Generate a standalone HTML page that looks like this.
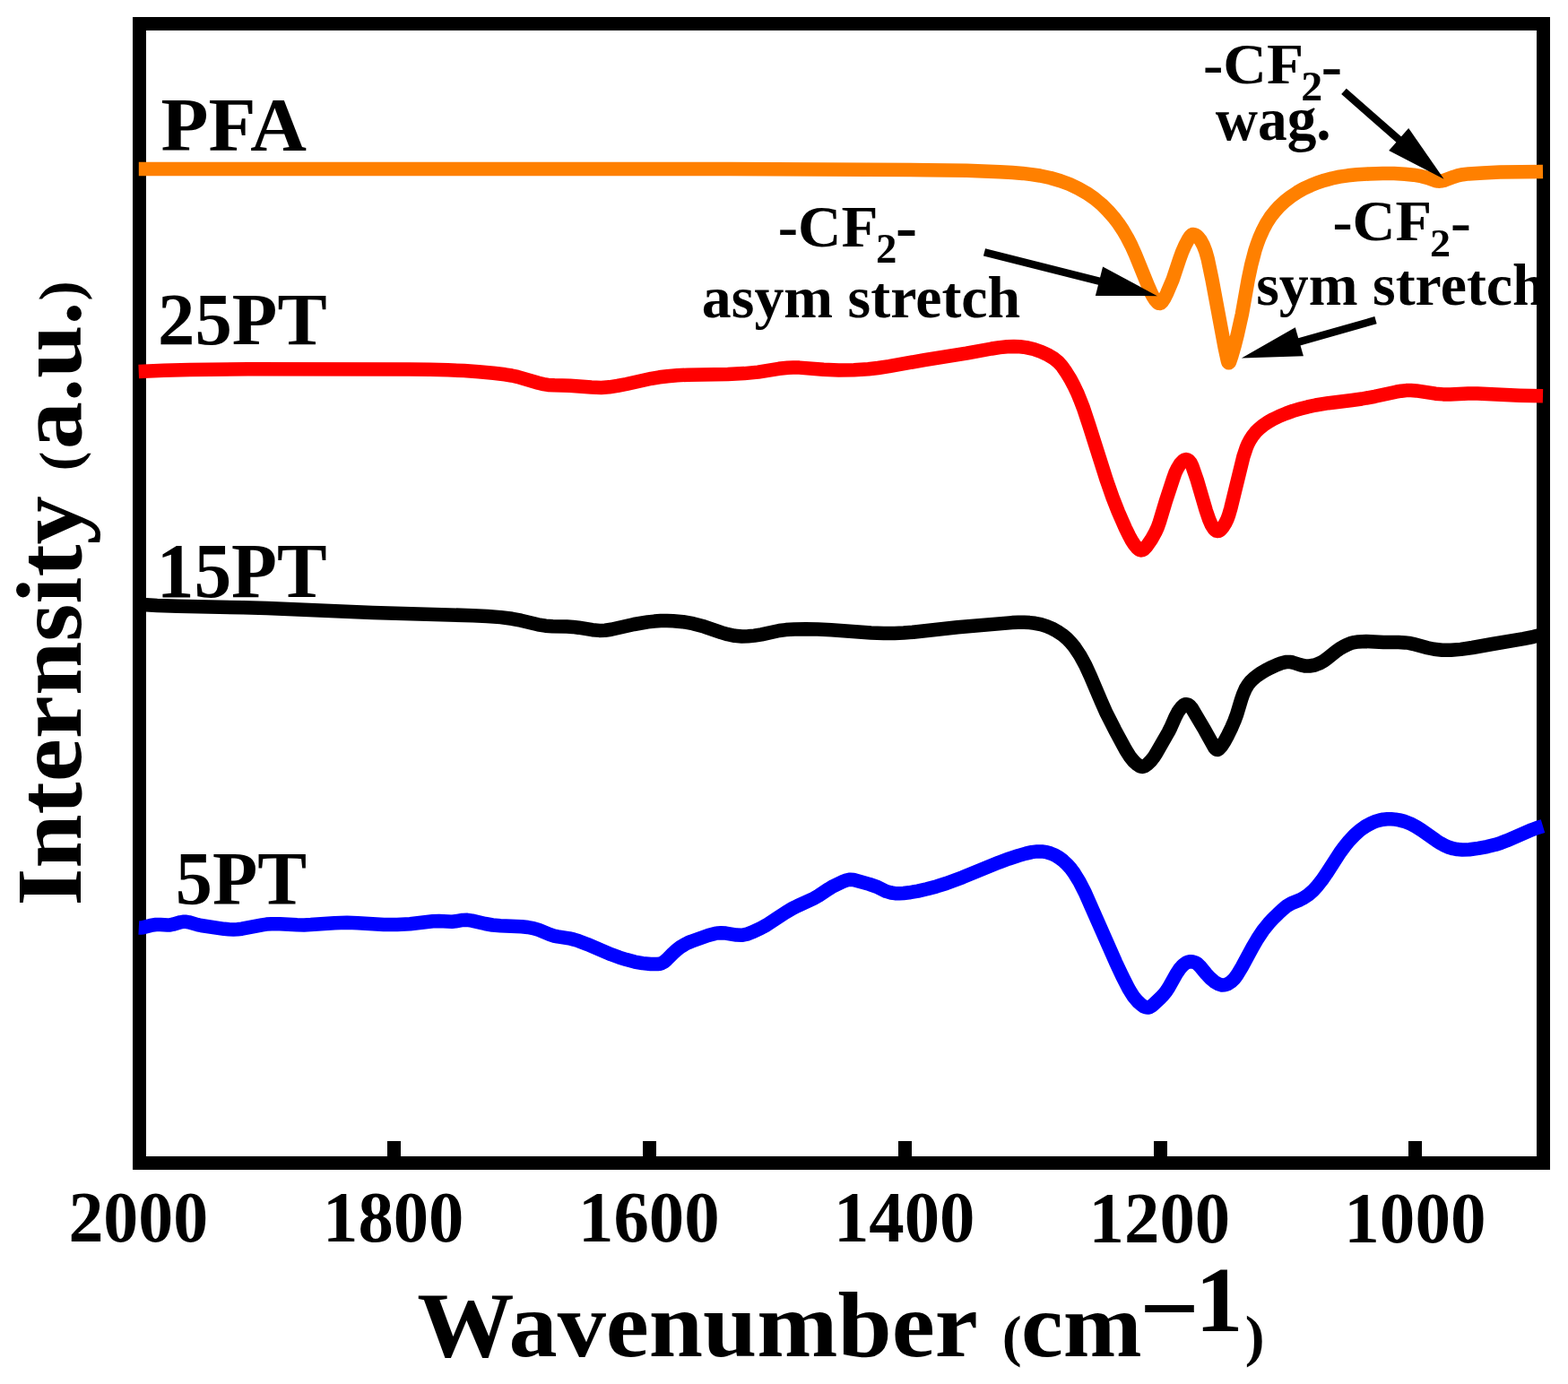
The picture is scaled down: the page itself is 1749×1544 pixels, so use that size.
<!DOCTYPE html>
<html><head><meta charset="utf-8"><title>FTIR spectra</title>
<style>html,body{margin:0;padding:0;background:#fff;width:1749px;height:1544px;overflow:hidden}svg{display:block}text{font-family:"Liberation Serif",serif;font-weight:bold;fill:#000}</style>
</head><body>
<svg width="1749" height="1544" viewBox="0 0 1749 1544">
<rect width="1749" height="1544" fill="#fff"/>
<text transform="translate(76.44,1385.49) scale(0.9855,1.0094)" font-size="79">2000</text>
<text transform="translate(360.02,1385.49) scale(0.9966,1.0094)" font-size="79">1800</text>
<text transform="translate(645.01,1385.19) scale(0.9980,1.0075)" font-size="79">1600</text>
<text transform="translate(929.92,1385.19) scale(0.9973,1.0075)" font-size="79">1400</text>
<text transform="translate(1214.62,1385.59) scale(0.9973,1.0132)" font-size="79">1200</text>
<text transform="translate(1499.29,1385.59) scale(1.0013,1.0113)" font-size="79">1000</text>
<text transform="scale(1.0120,0.9792)"><tspan x="459.68" y="1545.59" font-size="107.00">Wavenumber </tspan><tspan x="1104.48" y="1544.37" font-size="64.87">(</tspan><tspan x="1125.48" y="1544.88" font-size="104.23">cm</tspan><tspan x="1255.84" y="1529.53" font-size="116.09">−</tspan><tspan x="1317.54" y="1516.75" font-size="105.34">1</tspan><tspan x="1372.23" y="1544.32" font-size="64.66">)</tspan></text>
<text transform="rotate(-90) scale(1.0130,0.9786)"><tspan x="-997.88" y="91.66" font-size="107.00">Internsity </tspan><tspan x="-518.57" y="90.35" font-size="64.19">(</tspan><tspan x="-494.87" y="91.97" font-size="104.67">a.u.</tspan><tspan x="-331.51" y="90.95" font-size="66.60">)</tspan></text>
<text transform="translate(179.58,168.00) scale(1.0217,1.0000)" font-size="85">PFA</text>
<text transform="translate(176.08,384.00) scale(0.9737,0.9825)" font-size="85">25PT</text>
<text transform="translate(174.74,666.00) scale(0.9806,1.0179)" font-size="85">15PT</text>
<text transform="translate(195.80,1009.00) scale(0.9680,1.0000)" font-size="85">5PT</text>
<text transform="scale(0.9718,0.9625)"><tspan x="892.94" y="285.65" font-size="69.00">-CF</tspan><tspan x="1005.45" y="304.22" font-size="48.19">2</tspan><tspan x="1027.89" y="288.30" font-size="74.37">-</tspan></text>
<text transform="scale(0.9627,0.9333)"><tspan x="1543.97" y="287.22" font-size="69.00">-CF</tspan><tspan x="1656.86" y="306.24" font-size="47.95">2</tspan><tspan x="1680.70" y="289.61" font-size="71.29">-</tspan></text>
<text transform="scale(0.9755,0.9333)"><tspan x="1375.65" y="99.72" font-size="69.00">-CF</tspan><tspan x="1487.67" y="119.60" font-size="49.10">2</tspan><tspan x="1510.88" y="102.46" font-size="71.85">-</tspan></text>
<text transform="translate(782.84,354.46) scale(1.0287,1.0103)" font-size="64">asym stretch</text>
<text transform="translate(1401.24,340.26) scale(1.0287,1.0103)" font-size="64">sym stretch</text>
<text transform="translate(1355.70,155.51) scale(1.0220,1.0489)" font-size="64">wag.</text>
<rect x="155.5" y="26.5" width="1566" height="1271" fill="none" stroke="#000" stroke-width="15"/>
<rect x="432" y="1273" width="15" height="18" fill="#000"/>
<rect x="717" y="1273" width="15" height="18" fill="#000"/>
<rect x="1002" y="1273" width="15" height="18" fill="#000"/>
<rect x="1287" y="1273" width="15" height="18" fill="#000"/>
<rect x="1571" y="1273" width="15" height="18" fill="#000"/>
<path d="M154.8,188.6 814.2,188.5 1034.2,189.7 1078.2,190.3 1115.2,191.7 1129.2,192.5 1140.7,193.4 1150.6,194.6 1160.0,196.0 1171.7,198.5 1182.7,201.7 1193.0,205.5 1202.9,210.2 1212.1,215.4 1220.7,221.4 1228.8,228.1 1236.2,235.5 1242.2,242.3 1247.6,249.4 1252.6,256.9 1257.4,265.1 1261.9,273.9 1266.4,283.9 1280.2,317.8 1284.2,327.1 1286.3,331.1 1288.5,334.5 1290.7,337.1 1292.4,338.3 1293.5,338.5 1294.5,338.2 1296.4,336.6 1298.7,333.1 1301.7,327.1 1308.3,311.4 1315.7,289.1 1318.6,281.1 1321.9,273.7 1325.5,266.9 1328.0,263.2 1329.2,262.1 1330.3,261.5 1331.4,261.4 1333.0,262.0 1334.7,263.0 1336.3,264.5 1339.3,268.2 1342.0,273.2 1344.8,280.3 1347.2,288.9 1351.9,311.3 1366.1,387.6 1369.2,401.9 1369.9,404.2 1370.6,404.8 1371.3,404.2 1371.9,402.9 1373.7,397.5 1377.1,385.9 1380.2,373.6 1385.4,350.4 1392.2,312.0 1395.5,296.3 1399.8,279.7 1402.3,272.1 1404.9,265.1 1408.5,257.0 1412.6,249.2 1417.1,242.1 1421.9,235.9 1427.2,230.1 1433.1,224.6 1439.8,219.4 1447.0,214.6 1454.0,210.6 1461.8,206.9 1469.3,203.8 1477.4,201.2 1485.6,199.0 1494.3,197.2 1503.5,195.8 1513.4,194.8 1527.3,193.9 1542.4,193.4 1555.0,193.6 1567.0,194.2 1576.9,195.2 1585.6,196.7 1592.4,198.4 1601.5,201.6 1603.8,202.1 1605.8,202.2 1608.6,201.8 1611.5,201.1 1621.5,197.3 1625.9,195.9 1631.7,194.7 1638.1,193.9 1654.0,192.9 1673.0,192.1 1721.0,191.4" fill="none" stroke="#ff8000" stroke-width="15.5" stroke-linejoin="round"/>
<path d="M154.7,414.4 182.7,413.3 211.7,412.5 276.7,411.7 456.6,412.0 479.6,412.3 499.6,412.8 517.6,413.6 534.0,414.7 550.4,416.2 563.3,417.8 570.7,419.0 577.1,420.4 600.6,427.3 606.4,428.6 611.3,429.4 618.3,429.8 635.8,430.2 659.7,432.1 670.6,432.4 679.5,431.8 688.8,430.4 698.7,428.5 726.6,422.3 735.5,420.8 744.4,419.7 755.3,418.8 767.3,418.2 811.7,417.4 830.2,416.6 845.6,415.1 868.8,411.3 878.7,410.2 884.7,410.0 891.6,410.1 918.6,412.3 935.6,413.0 952.5,412.8 968.5,411.8 979.4,410.5 991.7,408.7 1031.1,401.6 1078.0,394.2 1106.1,389.0 1115.0,387.6 1123.4,386.7 1130.8,386.4 1137.7,386.7 1144.6,387.6 1153.0,389.5 1161.5,392.5 1169.6,396.3 1175.9,400.2 1180.5,404.0 1184.5,408.4 1189.1,415.0 1194.1,423.1 1197.8,430.2 1201.5,437.8 1204.9,446.1 1208.5,455.4 1214.8,474.4 1234.5,536.3 1241.1,555.1 1247.5,571.4 1255.4,589.3 1259.6,597.9 1262.5,603.2 1265.6,607.9 1268.6,611.5 1270.7,613.2 1271.8,613.7 1272.9,613.9 1274.3,613.7 1275.8,612.8 1278.9,609.6 1284.5,601.5 1288.9,593.5 1291.3,588.2 1293.4,582.2 1300.4,559.1 1308.6,534.0 1310.8,527.7 1313.5,522.2 1316.2,517.8 1319.3,514.4 1320.7,513.3 1321.8,512.8 1323.0,512.6 1324.1,512.8 1326.2,514.0 1328.1,516.2 1329.9,520.0 1335.2,535.3 1345.3,569.8 1348.7,579.6 1351.3,585.6 1354.0,589.9 1355.3,591.3 1356.7,592.2 1358.1,592.5 1359.2,592.4 1360.3,591.9 1361.7,590.8 1364.3,587.7 1366.8,583.7 1369.0,579.1 1370.7,574.4 1372.8,567.1 1386.8,509.8 1390.3,499.3 1392.2,494.8 1394.3,490.9 1397.2,486.3 1400.6,482.1 1404.5,478.2 1409.2,474.4 1414.6,470.8 1420.2,467.6 1427.4,464.1 1434.8,461.1 1442.3,458.4 1450.4,456.0 1458.6,453.9 1467.4,452.0 1481.8,449.7 1508.1,446.5 1518.9,445.0 1533.6,442.3 1557.1,437.2 1563.0,436.2 1568.5,435.6 1573.9,435.5 1579.8,435.9 1601.2,439.2 1609.7,439.9 1617.6,440.0 1637.6,439.1 1648.1,439.1 1695.0,441.2 1721.0,441.8" fill="none" stroke="#ff0000" stroke-width="15.5" stroke-linejoin="round"/>
<path d="M154.8,674.3 175.2,675.5 198.2,676.3 271.2,677.8 297.7,678.5 415.6,683.4 527.5,686.7 543.5,687.4 558.4,688.6 571.2,690.3 581.1,692.2 600.1,696.8 608.5,698.2 616.4,698.8 632.4,699.0 638.9,699.4 645.4,700.2 660.7,702.7 668.5,703.4 674.9,703.2 681.7,702.3 707.2,696.5 722.6,693.9 730.0,693.1 737.0,692.6 744.0,692.5 750.9,692.7 761.8,693.7 773.0,695.7 785.6,699.1 804.6,705.6 811.8,707.7 819.6,709.3 827.5,710.0 834.4,709.8 841.4,709.1 849.4,707.8 869.3,703.5 876.7,702.6 886.2,701.9 898.7,701.7 912.2,702.0 927.2,702.8 971.6,706.0 985.6,706.5 998.0,706.4 1008.0,706.0 1018.4,705.2 1068.2,699.7 1128.9,694.6 1135.9,694.3 1142.4,694.3 1148.4,694.6 1154.4,695.3 1161.2,696.7 1167.4,698.6 1173.4,701.1 1179.1,704.2 1184.9,708.1 1189.9,712.2 1194.4,716.8 1198.8,722.2 1204.8,731.3 1210.8,742.3 1216.4,754.5 1228.3,782.6 1234.2,795.8 1243.5,814.1 1255.6,836.5 1260.4,844.1 1264.8,849.5 1267.4,851.9 1270.4,854.1 1272.6,855.1 1274.3,855.4 1275.6,855.2 1276.8,854.7 1279.9,852.5 1283.6,848.9 1287.1,844.5 1289.7,840.3 1303.4,816.5 1305.9,811.5 1310.9,800.1 1313.7,794.7 1316.0,791.3 1318.3,788.5 1320.2,786.8 1322.2,785.8 1323.8,785.7 1325.5,786.3 1327.5,787.9 1329.2,789.8 1344.1,814.9 1354.7,834.0 1355.9,835.4 1357.1,836.3 1358.1,836.4 1359.4,835.8 1362.2,832.8 1365.8,827.2 1369.6,820.2 1373.9,811.3 1377.0,804.0 1379.6,797.0 1384.7,780.0 1386.7,774.3 1389.3,768.4 1392.1,763.8 1394.8,760.4 1398.0,757.3 1401.8,754.1 1406.3,751.0 1411.5,747.9 1416.8,745.1 1424.2,741.7 1429.4,739.7 1434.2,738.6 1438.5,738.4 1441.9,739.0 1450.8,741.9 1455.3,742.9 1460.7,743.0 1466.6,742.0 1471.6,740.1 1476.4,737.5 1480.8,734.3 1491.4,725.8 1495.2,723.2 1498.7,721.2 1502.7,719.2 1506.9,717.6 1510.8,716.6 1515.1,715.9 1524.0,715.6 1543.1,716.5 1560.1,716.5 1567.0,716.9 1571.5,717.4 1575.9,718.3 1592.4,722.7 1599.8,724.3 1608.6,725.2 1618.5,725.3 1629.4,724.4 1642.3,722.5 1664.6,718.5 1699.4,712.6 1710.7,710.3 1721.0,707.8" fill="none" stroke="#000000" stroke-width="15.5" stroke-linejoin="round"/>
<path d="M154.8,1035.0 156.8,1035.1 159.2,1034.8 168.0,1032.4 173.9,1031.5 178.8,1031.4 186.8,1032.0 189.7,1031.9 193.1,1031.2 201.3,1028.8 205.2,1028.2 207.7,1028.3 210.6,1028.8 220.3,1031.6 224.3,1032.5 250.0,1036.3 255.4,1036.8 260.4,1037.0 264.8,1036.8 269.8,1036.2 292.4,1031.8 297.3,1031.1 302.8,1030.7 312.2,1030.7 331.2,1031.8 339.2,1031.9 346.7,1031.6 373.1,1029.7 387.1,1029.3 399.1,1029.7 428.1,1031.4 443.0,1031.5 457.4,1030.7 482.8,1027.8 489.7,1027.6 504.2,1028.2 508.2,1027.8 516.2,1026.4 521.2,1026.3 526.5,1027.1 541.1,1030.5 549.4,1032.0 558.3,1032.7 581.9,1033.7 588.9,1034.5 594.8,1035.6 600.9,1037.4 612.9,1042.4 618.1,1044.1 622.0,1044.9 634.8,1046.8 640.1,1048.1 645.3,1049.7 655.1,1053.4 681.8,1064.8 690.7,1068.1 698.8,1070.6 708.0,1073.0 716.8,1074.6 725.8,1075.5 733.4,1075.6 735.8,1075.3 737.6,1074.8 741.0,1072.9 743.6,1070.6 750.4,1063.7 754.1,1060.4 758.8,1056.7 763.5,1053.8 767.4,1051.7 771.1,1050.2 790.0,1043.5 797.7,1041.4 801.1,1040.9 804.0,1040.7 809.5,1041.1 821.5,1043.1 827.3,1043.3 833.1,1042.2 840.0,1039.6 848.6,1035.5 855.2,1031.9 876.1,1018.1 883.8,1013.5 889.6,1010.6 907.3,1002.5 913.0,999.3 924.2,991.8 929.3,988.7 940.2,983.6 944.9,981.8 948.2,981.2 952.1,981.5 969.6,986.4 977.5,989.1 988.5,994.4 994.1,996.0 998.5,996.7 1002.9,996.8 1007.9,996.5 1013.9,995.8 1023.8,994.1 1034.0,991.8 1044.6,988.9 1055.5,985.5 1073.8,978.7 1114.1,962.2 1125.2,958.1 1135.7,954.6 1144.4,952.1 1150.9,950.6 1156.8,949.9 1162.2,949.9 1167.1,950.6 1171.8,952.0 1176.9,954.2 1181.6,957.0 1186.0,960.3 1190.3,964.3 1194.6,969.2 1198.4,974.4 1204.1,983.8 1210.3,995.9 1244.4,1073.2 1252.0,1089.4 1258.8,1102.7 1261.6,1107.4 1264.3,1111.6 1267.2,1115.1 1270.0,1118.2 1273.2,1121.0 1275.8,1122.8 1278.5,1123.9 1280.6,1124.1 1283.1,1123.3 1285.5,1121.6 1294.7,1113.0 1297.4,1110.1 1300.5,1106.3 1303.3,1102.2 1312.1,1086.5 1315.7,1081.1 1318.4,1077.9 1320.6,1075.8 1323.1,1074.1 1325.4,1073.1 1327.8,1072.7 1330.7,1073.0 1333.1,1073.8 1335.7,1075.3 1338.3,1077.8 1345.3,1086.3 1349.7,1091.0 1354.8,1095.3 1359.2,1097.9 1363.0,1099.0 1366.3,1098.8 1370.0,1097.4 1373.4,1095.1 1376.8,1091.9 1380.1,1087.4 1385.4,1078.5 1397.0,1057.0 1402.6,1047.4 1408.9,1037.9 1415.2,1030.1 1419.6,1025.3 1425.3,1019.7 1431.2,1014.2 1435.0,1011.1 1437.9,1009.2 1440.5,1007.7 1449.8,1004.0 1454.2,1001.7 1459.5,998.1 1464.3,993.9 1469.3,988.5 1474.6,981.8 1479.5,974.7 1494.7,951.1 1499.7,944.3 1504.7,938.2 1510.9,931.6 1516.9,926.3 1523.5,921.6 1530.1,918.1 1534.2,916.4 1538.5,915.1 1542.8,914.2 1547.3,913.8 1551.8,913.7 1556.3,914.1 1560.8,914.9 1565.7,916.1 1572.7,918.7 1579.7,922.4 1586.0,926.4 1602.0,937.7 1606.7,940.7 1611.2,943.1 1616.2,945.3 1620.9,946.7 1625.6,947.6 1631.0,948.0 1639.0,947.7 1649.0,946.4 1658.8,944.6 1668.0,942.3 1674.2,940.3 1680.7,937.8 1708.7,925.7 1715.3,923.3 1721.0,921.6" fill="none" stroke="#0000ff" stroke-width="15.5" stroke-linejoin="round"/>
<line x1="1098.0" y1="281.3" x2="1227.9" y2="314.2" stroke="#000" stroke-width="8.5"/><polygon points="1290.9,330.2 1221.9,329.9 1230.1,297.5" fill="#000"/>
<line x1="1534.5" y1="357.2" x2="1447.4" y2="381.8" stroke="#000" stroke-width="8.5"/><polygon points="1384.9,399.5 1444.8,365.2 1453.9,397.3" fill="#000"/>
<line x1="1499.0" y1="101.9" x2="1561.7" y2="156.9" stroke="#000" stroke-width="8.5"/><polygon points="1610.6,199.7 1549.2,168.1 1571.2,143.0" fill="#000"/>
</svg>
</body></html>
